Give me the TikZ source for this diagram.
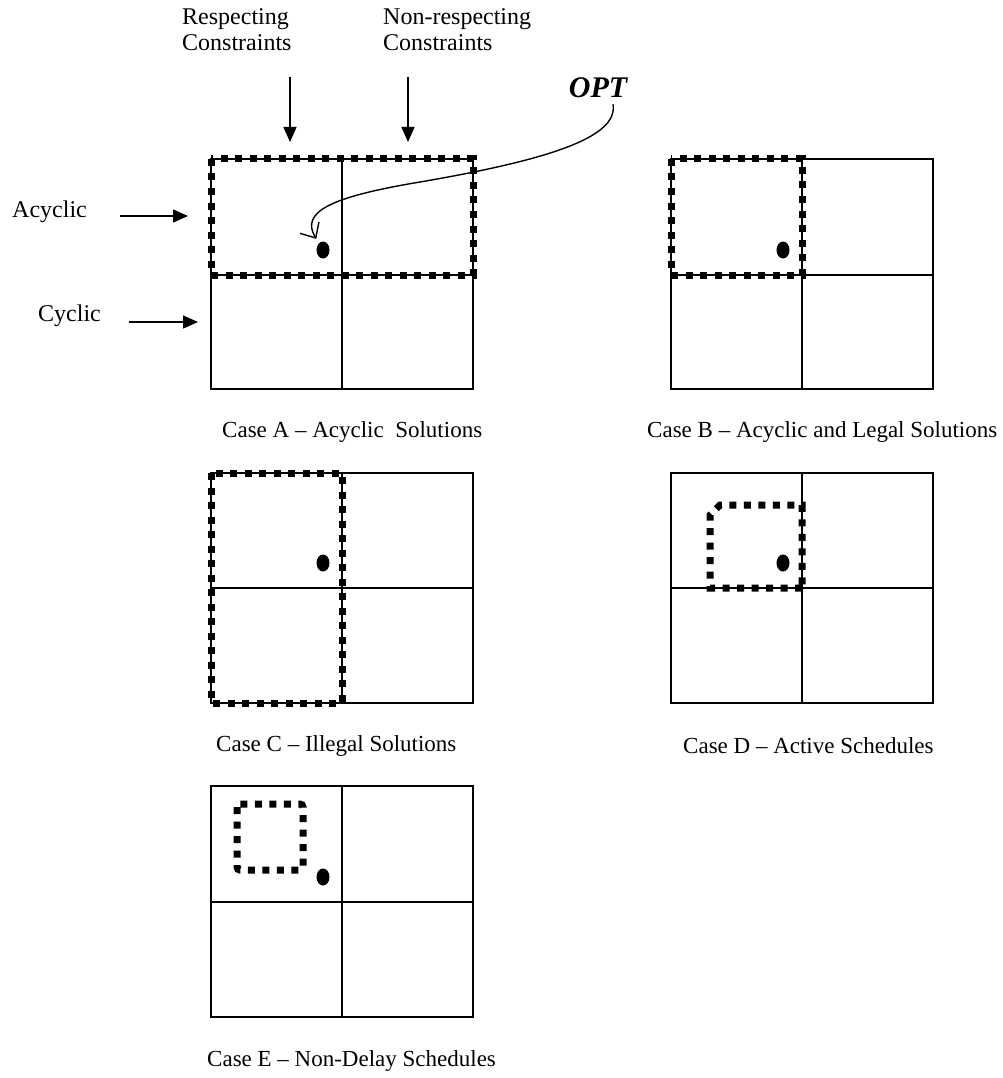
\documentclass[tikz,border=0pt]{standalone}
\usepackage{fontspec}
\setmainfont{Liberation Serif}
\usetikzlibrary{arrows.meta,shapes.geometric,calc}

\begin{document}
\begin{tikzpicture}[
  x=1pt,y=-1pt,
  cell/.style={line width=1.4pt},
  region/.style={line width=7pt,dash pattern=on 7pt off 7.5pt},
  optdot/.style={ellipse,fill,inner sep=0pt,minimum width=13pt,minimum height=17pt},
  arrow/.style={-{Triangle[length=15pt,width=13pt]},line width=1.4pt},
  lbl/.style={inner sep=0pt,font=\fontsize{24}{26}\selectfont},
  caselbl/.style={inner sep=0pt,font=\fontsize{23}{26}\selectfont}
]
\useasboundingbox (0,0) rectangle (1002,1078);

% column and row headings
\node[lbl,align=left,anchor=north west] (resp) at (182,8) {Respecting\\Constraints};
\node[lbl,align=left,anchor=north west] (nonresp) at (383,8) {Non-respecting\\Constraints};
\node[lbl,anchor=west] (acyc) at (12,212) {Acyclic};
\node[lbl,anchor=west] (cyc) at (38,316) {Cyclic};
\node[inner sep=0pt,font=\fontsize{30}{32}\selectfont\bfseries\itshape] (opt) at (598,88) {OPT};

\coordinate (respTo) at (290,142);
\coordinate (nonrespTo) at (408,142);
\coordinate (acycTo) at (188,216);
\coordinate (cycTo) at (198,322);
\draw[arrow] (respTo |- 0,77) -- (respTo);
\draw[arrow] (nonrespTo |- 0,77) -- (nonrespTo);
\draw[arrow] (acycTo -| 120,0) -- (acycTo);
\draw[arrow] (cycTo -| 129,0) -- (cycTo);

% case A
\draw[cell] (211,159) rectangle (473,389);
\draw[cell] (342,159) -- (342,389);
\draw[cell] (211,275) -- (473,275);
\draw[region] (211,159) rectangle (473,275);
\node[optdot] (dotA) at (323,250) {};
\node[caselbl,anchor=west] (caseA) at (222,432) {Case A -- Acyclic\ \ Solutions};

% case B
\draw[cell] (671,159) rectangle (933,389);
\draw[cell] (802,159) -- (802,389);
\draw[cell] (671,275) -- (933,275);
\draw[region] (671,159) rectangle (802,275);
\node[optdot] (dotB) at (783,250) {};
\node[caselbl,anchor=west] (caseB) at (647,432) {Case B -- Acyclic and Legal Solutions};

% case C
\draw[cell] (211,473) rectangle (473,703);
\draw[cell] (342,473) -- (342,703);
\draw[cell] (211,588) -- (473,588);
\draw[region] (211,473) rectangle (342,703);
\node[optdot] (dotC) at (323,563) {};
\node[caselbl,anchor=west] (caseC) at (216,746) {Case C -- Illegal Solutions};

% case D
\draw[cell] (671,473) rectangle (933,703);
\draw[cell] (802,473) -- (802,703);
\draw[cell] (671,588) -- (933,588);
\draw[region] (802,588) -- (710,588) -- (710,515) -- (720,505) -- (802,505) -- cycle;
\node[optdot] (dotD) at (783,563) {};
\node[caselbl,anchor=west] (caseD) at (683,746) {Case D -- Active Schedules};

% case E
\draw[cell] (211,786) rectangle (473,1017);
\draw[cell] (342,786) -- (342,1017);
\draw[cell] (211,902) -- (473,902);
\draw[region,rounded corners=3pt] (237,804) rectangle (303,870);
\node[optdot] (dotE) at (323,877) {};
\node[caselbl,anchor=west] (caseE) at (207,1061) {Case E -- Non-Delay Schedules};

% pointer to the optimum
\draw[-{Straight Barb[length=12pt,width=22pt]},line width=1.4pt]
  ($(opt.south)+(15,6)$) .. controls (618,135) and (560,158) .. (420,182)
  .. controls (330,197) and (300,212) .. ($(dotA.north west)+(-2,-5)$);
\end{tikzpicture}
\end{document}
